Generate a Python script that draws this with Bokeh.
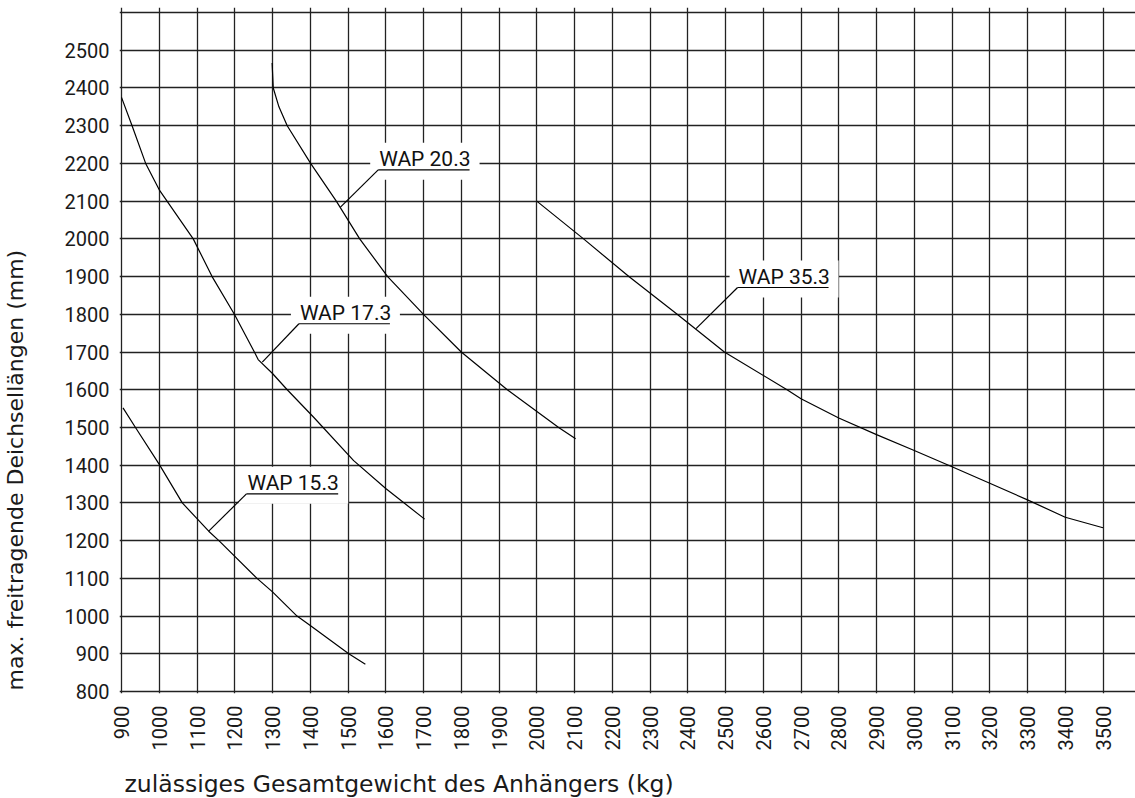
import numpy as np
from bokeh.plotting import figure
from bokeh.models import Range1d, FixedTicker, Title, ColumnDataSource
from bokeh.embed import file_html
from bokeh.resources import INLINE
from bokeh.core.properties import value

# ---- data -------------------------------------------------------------
x_ticks = list(range(900, 3501, 100))
y_ticks = list(range(800, 2501, 100))
y_grid = list(range(800, 2601, 100))

wap15_x = [904, 937, 1000, 1061, 1105, 1131, 1158, 1259, 1300, 1365, 1400, 1502, 1546]
wap15_y = [1552, 1500, 1402, 1300, 1253, 1225, 1200, 1100, 1064, 1000, 975, 900, 872]

wap17_x = [900, 928, 964, 1000, 1090, 1140, 1199, 1252, 1262, 1300, 1339, 1409, 1515, 1600, 1703]
wap17_y = [2375, 2300, 2200, 2130, 2000, 1900, 1800, 1700, 1680, 1643, 1600, 1527, 1412, 1338, 1257]

wap20_x = [1299, 1302, 1317, 1339, 1401, 1469, 1531, 1605, 1700, 1800, 1922, 2058, 2103]
wap20_y = [2466, 2400, 2350, 2300, 2200, 2100, 2000, 1900, 1800, 1700, 1600, 1500, 1470]

wap35_x = [2000, 2124, 2244, 2372, 2497, 2663, 2700, 2800, 2900, 3000, 3100, 3200, 3300, 3400, 3500]
wap35_y = [2100, 2000, 1900, 1800, 1700, 1600, 1576, 1525, 1481, 1439, 1396, 1352, 1308, 1262, 1234]

label_texts = ["WAP 15.3", "WAP 17.3", "WAP 20.3", "WAP 35.3"]
# annotation geometry (data units): underline start/end, underline height, leader target
label_x0 = [1231, 1370, 1580, 2532]
label_x1 = [1474, 1611, 1822, 2773]
label_y = [1324, 1775, 2183, 1871]
leader_x = [1131, 1273, 1480, 2422]
leader_y = [1225, 1673, 2084, 1762]

x_title = "zulässiges Gesamtgewicht des Anhängers (kg)"
y_title = "max. freitragende Deichsellängen (mm)"

# ---- figure -----------------------------------------------------------
TECH_FONT = "Roboto"
TITLE_FONT = "DejaVu Sans"
SX = 0.3775   # px per kg
SY = 0.3772   # px per mm

p = figure(width=1135, height=798,
           x_range=Range1d(894.7, 894.7 + 1016 / SX),
           y_range=Range1d(794.7, 794.7 + 686 / SY),
           output_backend="svg", toolbar_location=None,
           min_border_left=119, min_border_right=0,
           min_border_top=7, min_border_bottom=105)
p.outline_line_color = None
p.background_fill_color = "white"
p.border_fill_color = "white"

for ax in (p.xaxis, p.yaxis):
    ax.axis_line_color = None
    ax.major_tick_line_color = None
    ax.minor_tick_line_color = None
    ax.major_tick_in = 0
    ax.major_tick_out = 0
    ax.major_label_text_font = TECH_FONT
    ax.major_label_text_font_size = "20px"
    ax.major_label_text_color = "#1a1a1a"
    # invisible spacer label: pushes the real titles outward
    ax.axis_label = " "
    ax.axis_label_text_font_size = "2px"

p.xaxis.axis_label_standoff = 9
p.yaxis.axis_label_standoff = 29

p.xaxis.ticker = FixedTicker(ticks=x_ticks)
p.yaxis.ticker = FixedTicker(ticks=y_ticks)
p.xaxis.major_label_orientation = np.pi / 2
p.xaxis.major_label_standoff = 12
p.yaxis.major_label_standoff = 10

p.xgrid.ticker = FixedTicker(ticks=x_ticks)
p.ygrid.ticker = FixedTicker(ticks=y_grid)
for g in (p.xgrid, p.ygrid):
    g.grid_line_color = "#222222"
    g.grid_line_width = 1.3
    g.grid_line_alpha = 1.0

p.add_layout(Title(text=x_title, align="left", text_font=TITLE_FONT, text_font_size="23.5px",
                   text_font_style="normal", text_color="#1a1a1a", offset=5, standoff=0), "below")
p.add_layout(Title(text=y_title, align="left", text_font=TITLE_FONT, text_font_size="22px",
                   text_font_style="normal", text_color="#1a1a1a", offset=3, standoff=0), "left")

# curves
for xs, ys in ((wap15_x, wap15_y), (wap17_x, wap17_y), (wap20_x, wap20_y), (wap35_x, wap35_y)):
    p.line(xs, ys, line_color="black", line_width=1.2)

# label boxes (white) covering the grid
px_x = 1 / SX
px_y = 1 / SY
box = ColumnDataSource(dict(
    left=[a - 8 * px_x for a in label_x0],
    right=[b + 10 * px_x for b in label_x1],
    bottom=[y - 10 * px_y for y in label_y],
    top=[y + 27 * px_y for y in label_y],
))
p.quad(left="left", right="right", bottom="bottom", top="top", source=box,
       fill_color="white", line_color=None)

# underline + leader
p.segment(x0=label_x0, y0=label_y, x1=label_x1, y1=label_y, line_color="black", line_width=1.2)
p.segment(x0=label_x0, y0=label_y, x1=leader_x, y1=leader_y, line_color="black", line_width=1.2)

p.text(x=[a + 1 * px_x for a in label_x0], y=[y + 10.5 * px_y for y in label_y], text=label_texts,
       text_font=value(TECH_FONT), text_font_size=value("21px"), text_color="#111111",
       text_baseline="middle", text_align="left")

open("out.html", "w").write(file_html(p, INLINE))
